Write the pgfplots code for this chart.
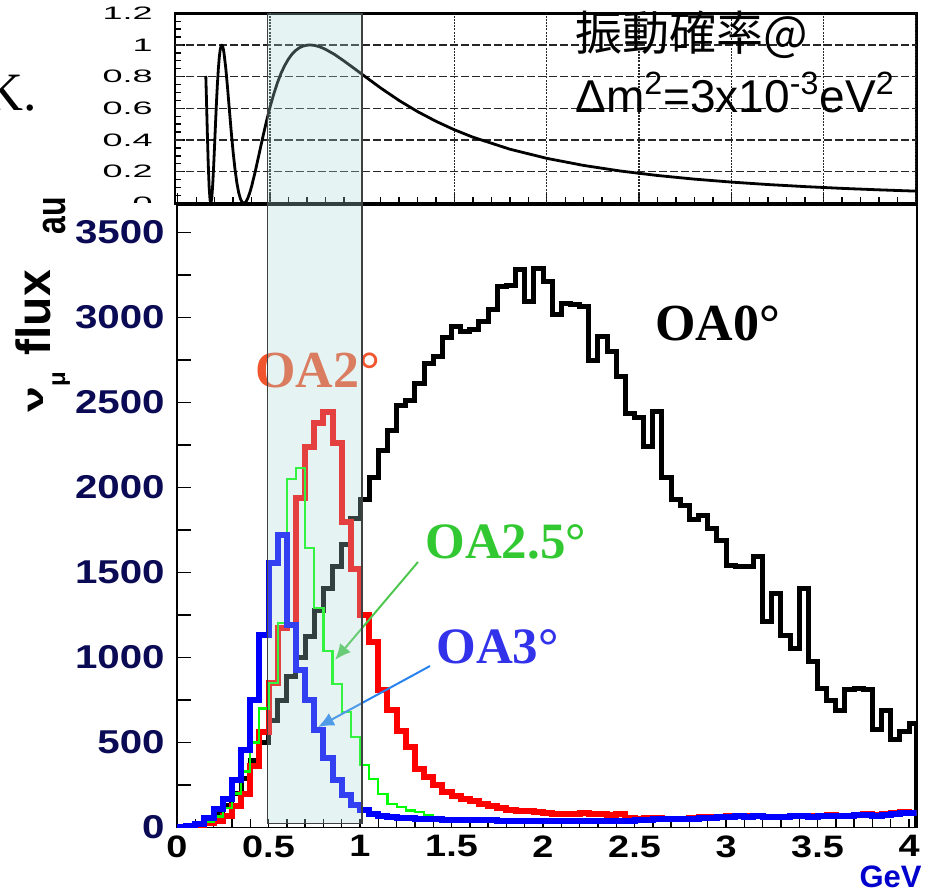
\documentclass[border=0pt]{standalone}
\usepackage{pgfplots}
\usepackage{pgfplotstable}
\pgfplotsset{compat=1.18}
\usepackage{fontspec}
\setmainfont{Liberation Sans}
\newfontfamily\serifbf{Liberation Serif}
\newfontfamily\widefont[FakeStretch=2.0]{Liberation Sans}
\newfontfamily\tickfont[FakeStretch=1.22]{Liberation Sans}
\newfontfamily\cjk{Noto Sans CJK JP}
\usetikzlibrary{arrows.meta}
\definecolor{bandfill}{RGB}{170,215,215}
\definecolor{navytick}{RGB}{10,10,85}
\definecolor{labred}{RGB}{240,85,45}
\definecolor{labgreen}{RGB}{50,200,50}
\definecolor{labblue}{RGB}{50,50,235}
\definecolor{arrgreen}{RGB}{80,200,80}
\definecolor{arrblue}{RGB}{40,130,240}
\definecolor{gevblue}{RGB}{0,0,205}

% oscillation probability
\pgfplotstableread{
x y
0.152 0.804
0.155 0.678
0.160 0.456
0.165 0.2545
0.170 0.104
0.175 0.0194
0.180 0.0015
0.185 0.0425
0.190 0.129
0.195 0.246
0.200 0.379
0.205 0.515
0.210 0.643
0.215 0.757
0.220 0.850
0.225 0.922
0.230 0.970
0.235 0.995
0.240 0.999
0.245 0.985
0.250 0.954
0.260 0.856
0.270 0.727
0.280 0.587
0.290 0.449
0.300 0.3235
0.310 0.2167
0.320 0.1314
0.330 0.0683
0.340 0.0268
0.350 0.0049
0.360 0.0004
0.370 0.0107
0.380 0.0334
0.390 0.0658
0.400 0.106
0.420 0.2014
0.440 0.307
0.460 0.413
0.480 0.5147
0.500 0.607
0.520 0.689
0.540 0.761
0.560 0.822
0.580 0.871
0.600 0.9115
0.620 0.943
0.640 0.966
0.660 0.983
0.680 0.993
0.700 0.9987
0.720 0.9999
0.740 0.9974
0.760 0.9917
0.780 0.9832
0.800 0.9729
0.850 0.940
0.900 0.8995
0.950 0.857
1.000 0.8137
1.100 0.728
1.200 0.649
1.300 0.579
1.400 0.5176
1.500 0.4639
1.600 0.4174
1.800 0.3417
2.000 0.2839
2.200 0.2391
2.400 0.2037
2.600 0.1756
2.800 0.1527
3.000 0.1340
3.200 0.1184
3.400 0.1054
3.600 0.0943
3.800 0.0850
4.000 0.0769
}\probtab

% OA0 (bin left edge, content)
\pgfplotstableread{
x y
0.00 2
0.05 8
0.10 20
0.15 45
0.20 80
0.25 130
0.30 200
0.35 290
0.40 397
0.45 500
0.50 632
0.55 750
0.60 887
0.65 1000
0.70 1122
0.75 1279
0.80 1408
0.85 1534
0.90 1662
0.95 1820
1.00 1930
1.05 2060
1.10 2215
1.15 2335
1.20 2480
1.25 2510
1.30 2610
1.35 2730
1.40 2770
1.45 2880
1.50 2945
1.55 2915
1.60 2930
1.65 2975
1.70 3050
1.75 3180
1.80 3190
1.85 3280
1.90 3095
1.95 3290
2.00 3210
2.05 3020
2.10 3083
2.15 3075
2.20 3064
2.25 2750
2.30 2887
2.35 2799
2.40 2652
2.45 2436
2.50 2410
2.55 2240
2.60 2450
2.65 2060
2.70 1930
2.75 1897
2.80 1809
2.85 1838
2.90 1760
2.95 1691
3.00 1544
3.05 1534
3.10 1534
3.15 1593
3.20 1211
3.25 1378
3.30 1132
3.35 1054
3.40 1407
3.45 975
3.50 819
3.55 750
3.60 691
3.65 809
3.70 819
3.75 809
3.80 574
3.85 691
3.90 515
3.95 564
4.00 613
4.042 0
}\oazero

% OA2
\pgfplotstableread{
x y
0.00 0
0.05 3
0.10 12
0.15 25
0.20 40
0.25 70
0.30 125
0.35 200
0.40 360
0.45 560
0.50 850
0.55 1175
0.60 1190
0.65 1936
0.70 2240
0.75 2378
0.80 2446
0.85 2260
0.90 1800
0.95 1520
1.00 1250
1.05 1090
1.10 810
1.15 690
1.20 570
1.25 475
1.30 345
1.35 300
1.40 250
1.45 210
1.50 185
1.55 170
1.60 155
1.65 140
1.70 125
1.75 115
1.80 105
1.85 100
1.90 95
1.95 90
2.00 85
2.05 80
2.10 78
2.15 82
2.20 85
2.25 82
2.30 78
2.35 75
2.40 80
2.45 55
2.50 52
2.55 55
2.60 55
2.65 52
2.70 50
2.75 52
2.80 58
2.85 60
2.90 62
2.95 64
3.00 70
3.05 68
3.10 70
3.15 66
3.20 64
3.25 62
3.30 64
3.35 68
3.40 70
3.45 66
3.50 70
3.55 72
3.60 68
3.65 70
3.70 74
3.75 78
3.80 72
3.85 80
3.90 84
3.95 92
4.00 86
4.042 86
}\oatwo

% OA2.5
\pgfplotstableread{
x y
0.00 0
0.05 3
0.10 12
0.15 32
0.20 65
0.25 115
0.30 200
0.35 330
0.40 500
0.45 700
0.50 850
0.55 1205
0.60 2050
0.65 2113
0.70 1642
0.75 1289
0.80 1040
0.85 843
0.90 681
0.95 534
1.00 368
1.05 285
1.10 195
1.15 140
1.20 120
1.25 100
1.30 90
1.35 72
1.40 62
1.45 58
1.50 55
1.55 40
1.60 39
1.65 38
1.70 38
1.75 37
1.80 36
1.85 36
1.90 36
1.95 34
2.00 34
2.05 33
2.10 34
2.15 36
2.20 34
2.25 33
2.30 32
2.35 34
2.40 36
2.45 34
2.50 38
2.55 41
2.60 44
2.65 46
2.70 44
2.75 46
2.80 48
2.85 51
2.90 54
2.95 56
3.00 58
3.05 61
3.10 58
3.15 62
3.20 58
3.25 56
3.30 58
3.35 61
3.40 62
3.45 60
3.50 64
3.55 66
3.60 62
3.65 64
3.70 68
3.75 70
3.80 66
3.85 72
3.90 76
3.95 84
4.00 80
4.042 80
}\oatwofive

% OA3
\pgfplotstableread{
x y
0.00 3
0.05 8
0.10 20
0.15 55
0.20 110
0.25 165
0.30 279
0.35 456
0.40 750
0.45 1132
0.50 1555
0.55 1720
0.60 1191
0.65 926
0.70 750
0.75 574
0.80 407
0.85 279
0.90 191
0.95 132
1.00 103
1.05 80
1.10 70
1.15 62
1.20 58
1.25 55
1.30 52
1.35 50
1.40 48
1.45 46
1.50 45
1.55 44
1.60 43
1.65 42
1.70 42
1.75 41
1.80 40
1.85 40
1.90 40
1.95 38
2.00 38
2.05 37
2.10 38
2.15 40
2.20 38
2.25 37
2.30 36
2.35 38
2.40 40
2.45 38
2.50 42
2.55 45
2.60 48
2.65 50
2.70 48
2.75 50
2.80 52
2.85 55
2.90 58
2.95 60
3.00 62
3.05 65
3.10 62
3.15 66
3.20 62
3.25 60
3.30 62
3.35 65
3.40 66
3.45 64
3.50 68
3.55 70
3.60 66
3.65 68
3.70 72
3.75 74
3.80 70
3.85 76
3.90 80
3.95 88
4.00 84
4.042 84
}\oathree

\begin{document}
\begin{tikzpicture}[x=1pt,y=1pt]
\useasboundingbox (0,0) rectangle (464.5,445.5);

% fragment of slide text at left edge (cut in the reference too)
\node[anchor=base west, inner sep=0pt, font=\serifbf\fontsize{27}{27}\selectfont] at (-8,390.5) {K.};

% ---------------- upper panel ----------------
\begin{axis}[
  at={(87.5pt,343.85pt)}, anchor=south west, scale only axis,
  width=370.85pt, height=95pt,
  xmin=-0.015, xmax=4.005, ymin=0, ymax=1.2,
  axis line style={line width=1.3pt},
  tick align=inside, xtick pos=bottom, ytick pos=left,
  xtick={0,0.5,...,4}, xticklabels={}, minor x tick num=4,
  ytick={0,0.2,...,1.2}, minor y tick num=3,
  yticklabels={0,0.2,0.4,0.6,0.8,1,1.2},
  major tick length=5pt, minor tick length=3pt,
  tick style={line width=0.7pt, black},
  yticklabel style={font=\widefont\fontsize{9}{9}\selectfont, anchor=east, inner sep=0pt, xshift=-11pt},
  clip=true,
]
\pgfplotsinvokeforeach{0.2,0.4,0.6,0.8,1.0}{
  \draw[black!85, line width=0.6pt, dash pattern=on 4pt off 1.5pt] (axis cs:-0.015,#1) -- (axis cs:4.005,#1);
}
\pgfplotsinvokeforeach{0.5,1,1.5,2,2.5,3,3.5,4}{
  \draw[black!85, line width=0.6pt, dash pattern=on 1pt off 0.6pt] (axis cs:#1,0) -- (axis cs:#1,1.2);
}
\addplot[black, line width=1.4pt, line join=round] table {\probtab};
\end{axis}

% the "0" of the upper panel is mostly covered by the lower pad
\fill[white] (40,331) rectangle (86.8,343.85);

\node[anchor=base west, inner sep=0pt, font=\cjk\fontsize{23.5}{23.5}\selectfont] at (287.5,420) {振動確率@};
\node[anchor=base west, inner sep=0pt, font=\fontsize{23}{23}\selectfont] at (287.5,389) {Δm\textsuperscript{2}=3x10\textsuperscript{-3}eV\textsuperscript{2}};

% ---------------- lower panel ----------------
\begin{axis}[
  at={(88.5pt,31.75pt)}, anchor=south west, scale only axis,
  width=369.85pt, height=311.25pt,
  xmin=0, xmax=4.042, ymin=0, ymax=3662,
  axis line style={line width=0.8pt},
  tick align=inside, xtick pos=bottom, ytick pos=left,
  xtick={0,0.5,...,4}, minor x tick num=4,
  xticklabels={0,0.5,1,1.5,2,2.5,3,3.5,4},
  ytick={0,500,...,3500}, minor ytick={250,750,...,3250},
  yticklabels={0,500,1000,1500,2000,2500,3000,3500},
  scaled y ticks=false,
  xtick style={/pgfplots/major tick length=4.5pt, /pgfplots/minor tick length=4.5pt},
  ytick style={/pgfplots/major tick length=7pt, /pgfplots/minor tick length=7pt},
  tick style={line width=0.7pt, black},
  yticklabel style={font=\tickfont\bfseries\fontsize{16.5}{16.5}\selectfont, text=navytick, anchor=east, inner sep=0pt, xshift=-6pt},
  xticklabel style={font=\tickfont\bfseries\fontsize{15.5}{15.5}\selectfont, text=black, anchor=north, inner sep=0pt, yshift=-3.8pt},
]
\addplot[black, line width=2.5pt, const plot] table {\oazero};
\addplot[red, line width=3pt, const plot] table {\oatwo};
\addplot[green, line width=1.1pt, const plot] table {\oatwofive};
\addplot[blue, line width=3pt, const plot] table {\oathree};
\end{axis}

% labels and arrows
\node[anchor=base west, inner sep=0pt, font=\serifbf\bfseries\fontsize{26}{26}\selectfont] at (327.5,275.5) {OA0°};
\node[anchor=base west, inner sep=0pt, font=\serifbf\bfseries\fontsize{26}{26}\selectfont, text=labred] at (127.5,252) {OA2°};
\node[anchor=base west, inner sep=0pt, font=\serifbf\bfseries\fontsize{25.5}{25.5}\selectfont, text=labgreen] at (212.5,166.5) {OA2.5°};
\node[anchor=base west, inner sep=0pt, font=\serifbf\bfseries\fontsize{25.5}{25.5}\selectfont, text=labblue] at (218,114) {OA3°};
\draw[arrgreen, line width=1pt, -{Latex[length=8pt,width=7pt]}] (209,164.5) -- (167.5,115.5);
\draw[arrblue, line width=1pt, -{Latex[length=8pt,width=7pt]}] (215,112.5) -- (159,82);

% selected energy band, laid over everything
\fill[bandfill, opacity=0.3] (133.85,33.85) rectangle (181,438.85);
\draw[black!75, line width=0.7pt] (133.85,438.85) -- (133.85,33.85) -- (181,33.85) -- (181,438.85);

% axis title pieces (rotated)
\node[rotate=90, anchor=base west, inner sep=0pt, font=\bfseries\fontsize{14.5}{14.5}\selectfont] at (21.5,239) {\scalebox{1.6}[1]{ν}};
\node[rotate=90, anchor=base west, inner sep=0pt, font=\bfseries\fontsize{12}{12}\selectfont] at (32.5,252) {μ};
\node[rotate=90, anchor=base west, inner sep=0pt, font=\bfseries\fontsize{24}{24}\selectfont] at (25,267.5) {flux};
\node[rotate=90, anchor=base west, inner sep=0pt, font=\bfseries\fontsize{16}{16}\selectfont] at (32.5,328) {\scalebox{1}[1.3]{au}};

\node[anchor=base east, inner sep=0pt, font=\bfseries\fontsize{15.5}{15.5}\selectfont, text=gevblue] at (461,2) {GeV};
\end{tikzpicture}
\end{document}
